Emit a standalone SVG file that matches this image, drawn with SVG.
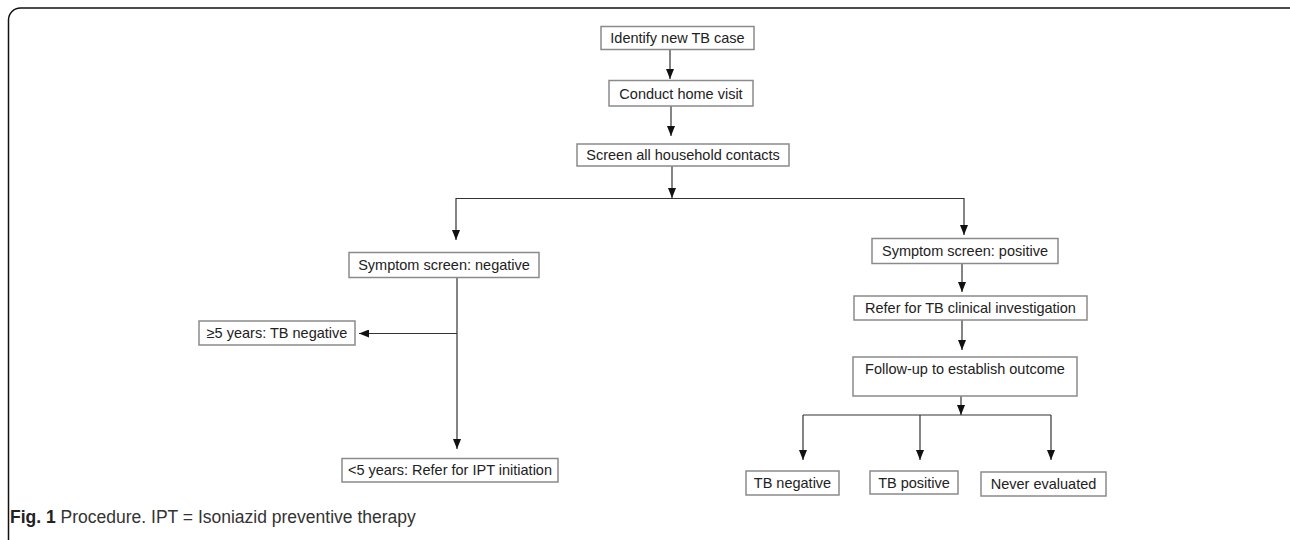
<svg xmlns="http://www.w3.org/2000/svg" width="1290" height="540" viewBox="0 0 1290 540">
<defs>
<marker id="ah" viewBox="0 0 10 8" markerWidth="10" markerHeight="8" refX="10" refY="4" orient="auto" markerUnits="userSpaceOnUse">
<path d="M0,0 L10,4 L0,8 z" fill="#111"/>
</marker>
<style>
.box{fill:#fff;stroke:#8a8a8a;stroke-width:1.5}
.t{font-family:"Liberation Sans",Arial,sans-serif;font-size:14.5px;fill:#222;text-anchor:middle}
.c{fill:none;stroke:#333;stroke-width:1.2}
.a{marker-end:url(#ah)}
.cap{font-family:"Liberation Sans",Arial,sans-serif;font-size:17.5px;fill:#333}
</style>
</defs>
<rect width="1290" height="540" fill="#fff"/>
<rect x="8.5" y="8" width="1292" height="546" rx="12" fill="none" stroke="#111" stroke-width="1.5"/>
<g id="connectors">
<line class="c a" x1="670" y1="49" x2="670" y2="79"/>
<line class="c a" x1="671" y1="106" x2="671" y2="136"/>
<line class="c a" x1="672" y1="166" x2="672" y2="198"/>
<line class="c" x1="456" y1="198.5" x2="964" y2="198.5"/>
<line class="c a" x1="456" y1="198" x2="456" y2="240"/>
<line class="c a" x1="964" y1="198" x2="964" y2="235"/>
<line class="c a" x1="457" y1="277" x2="457" y2="449"/>
<line class="c a" x1="457" y1="333.5" x2="359" y2="333.5"/>
<line class="c a" x1="962" y1="263" x2="962" y2="292"/>
<line class="c a" x1="962" y1="320" x2="962" y2="350"/>
<line class="c a" x1="961" y1="396" x2="961" y2="415"/>
<line class="c" x1="803" y1="415" x2="1051" y2="415"/>
<line class="c a" x1="803" y1="415" x2="803" y2="460"/>
<line class="c a" x1="920" y1="415" x2="920" y2="460"/>
<line class="c a" x1="1051" y1="415" x2="1051" y2="460"/>
</g>
<g id="n1"><rect class="box" x="601" y="26.5" width="153" height="23"/><text class="t" x="677.5" y="43">Identify new TB case</text></g>
<g id="n2"><rect class="box" x="609" y="80.5" width="144" height="25.5"/><text class="t" x="681" y="98.5">Conduct home visit</text></g>
<g id="n3"><rect class="box" x="577" y="144" width="212" height="22"/><text class="t" x="683" y="160">Screen all household contacts</text></g>
<g id="n4"><rect class="box" x="349" y="252.5" width="190" height="25"/><text class="t" x="444" y="270">Symptom screen: negative</text></g>
<g id="n5"><rect class="box" x="872" y="238.5" width="186" height="25"/><text class="t" x="965" y="256">Symptom screen: positive</text></g>
<g id="n6"><rect class="box" x="199" y="321" width="156" height="24"/><text class="t" x="277" y="338">≥5 years: TB negative</text></g>
<g id="n7"><rect class="box" x="854" y="296" width="233" height="24"/><text class="t" x="970.5" y="313">Refer for TB clinical investigation</text></g>
<g id="n8"><rect class="box" x="853" y="357" width="224" height="39"/><text class="t" x="965" y="374">Follow-up to establish outcome</text></g>
<g id="n9"><rect class="box" x="342" y="458.5" width="216" height="23.5"/><text class="t" x="450" y="475">&lt;5 years: Refer for IPT initiation</text></g>
<g id="n10"><rect class="box" x="746" y="471" width="93" height="24"/><text class="t" x="792.5" y="488">TB negative</text></g>
<g id="n11"><rect class="box" x="870" y="471" width="88" height="23"/><text class="t" x="914" y="488">TB positive</text></g>
<g id="n12"><rect class="box" x="981" y="472" width="125" height="24"/><text class="t" x="1043.5" y="489">Never evaluated</text></g>
<text class="cap" x="10" y="523"><tspan font-weight="bold" fill="#222">Fig. 1</tspan> Procedure. IPT = Isoniazid preventive therapy</text>
</svg>
